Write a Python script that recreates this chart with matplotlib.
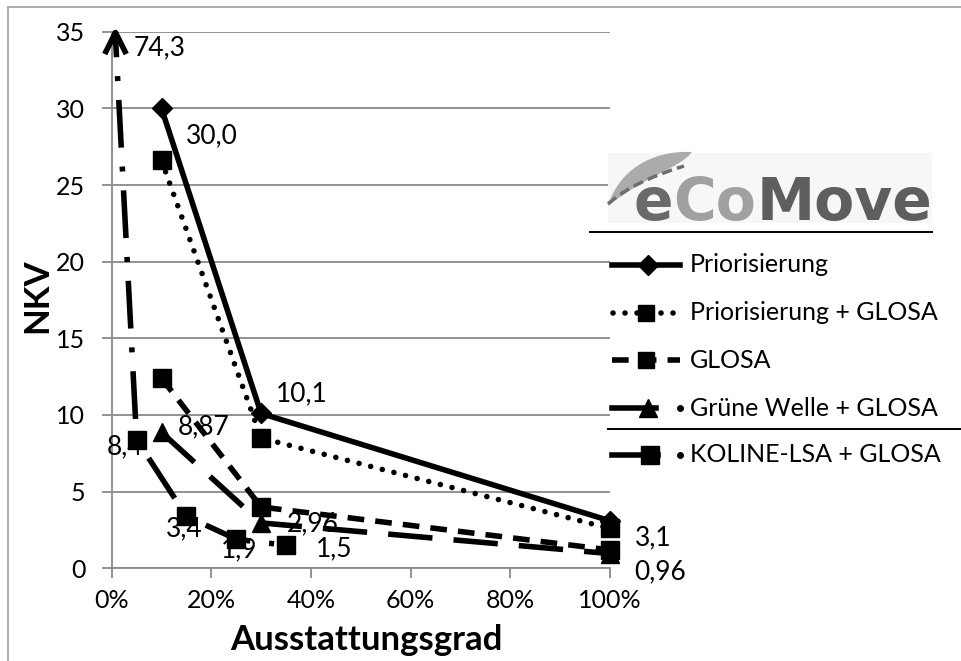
import numpy as np
import matplotlib
matplotlib.use("Agg")
import matplotlib.pyplot as plt
from matplotlib.path import Path
from matplotlib.patches import PathPatch, Rectangle
from matplotlib.markers import MarkerStyle
import matplotlib.ticker as mticker

# ---------------- data ----------------
x_tick_values = [0.0, 0.2, 0.4, 0.6, 0.8, 1.0]
y_tick_values = [0, 5, 10, 15, 20, 25, 30, 35]
x_label = "Ausstattungsgrad"
y_label = "NKV"

series_names = ["Priorisierung", "Priorisierung + GLOSA", "GLOSA",
                "Grüne Welle + GLOSA", "KOLINE-LSA + GLOSA"]

prior_x = [0.10, 0.30, 1.00]
prior_y = [30.0, 10.1, 3.1]
prior_glosa_x = [0.10, 0.30, 1.00]
prior_glosa_y = [26.6, 8.5, 2.6]
glosa_x = [0.10, 0.30, 1.00]
glosa_y = [12.4, 4.0, 1.2]
gruene_x = [0.10, 0.30, 1.00]
gruene_y = [8.87, 2.96, 0.96]
koline_x = [0.007, 0.05, 0.15, 0.25, 0.35]
koline_y = [74.3, 8.4, 3.4, 1.9, 1.5]

Y_MAX = 35

# ---------------- styles ----------------
W, H, DPI = 962, 661, 100
LW = 4.0
GRID = "#898989"
FONT = "Lato"
FS_TICK = 18
FS_LAB = 19
plt.rcParams["font.family"] = [FONT, "DejaVu Sans"]

dot_style = (0, (0.01, 2.15))
glosa_style = (0, (3.0, 2.0))
gruene_style = (0, (8.0, 3.8))
koline_style = (4.0, (8.6, 3.4, 0.9, 3.4))

# label offsets in pixels (dx right, dy down) and alignment
prior_label_off = [(24, 27, "left"), (15, -20, "left"), (25, 17, "left")]
gruene_label_off = [(16, -5, "left"), (26, 1, "left"), (25, 18, "left")]
koline_label_off = [(18, 16, "left"), (-12, 7, "center"), (-2, 13, "center"),
                    (3, 11, "center"), (30, 4, "left")]


def fx(px):
    return px / W


def fy(py):
    return 1 - py / H


def de(v, d):
    return f"{v:.{d}f}".replace(".", ",")


fig = plt.figure(figsize=(W / DPI, H / DPI), dpi=DPI, facecolor="white")

X0, X1, YT, YB = 111.7, 609.7, 31.7, 568.3
ax = fig.add_axes([fx(X0), fy(YB), fx(X1) - fx(X0), fy(YT) - fy(YB)])
ax.patch.set_visible(False)
ax.set_xlim(0, 1)
ax.set_ylim(0, Y_MAX)
ax.set_xticks(x_tick_values)
ax.xaxis.set_major_formatter(mticker.PercentFormatter(1.0, decimals=0))
ax.set_yticks(y_tick_values)
ax.yaxis.grid(True, color=GRID, lw=1.3)
ax.set_axisbelow(True)
for s in ["top", "right"]:
    ax.spines[s].set_visible(False)
for s in ["left", "bottom"]:
    ax.spines[s].set_color(GRID)
    ax.spines[s].set_linewidth(1.3)
ax.tick_params(axis="both", direction="out", length=7, width=1.3, color=GRID,
               labelsize=FS_TICK, labelcolor="black")
ax.tick_params(axis="y", pad=12)
ax.tick_params(axis="x", pad=8)

common = dict(color="black", lw=LW, clip_on=False, mfc="black", mec="black")
ax.plot(prior_x, prior_y, ls="-", marker="D", ms=10, zorder=3, **common)
ax.plot(prior_glosa_x, prior_glosa_y, ls=dot_style, dash_capstyle="round",
        marker="s", ms=13, zorder=4, **common)
ax.plot(glosa_x, glosa_y, ls=glosa_style, marker="s", ms=13, zorder=5, **common)
ax.plot(gruene_x, gruene_y, ls=gruene_style, marker="^", ms=13, zorder=6, **common)

k_plot_y = [min(v, Y_MAX) for v in koline_y]
k_normal = [i for i, v in enumerate(koline_y) if v <= Y_MAX]
k_clipped = [i for i, v in enumerate(koline_y) if v > Y_MAX]
ax.plot(koline_x, k_plot_y, ls=koline_style, marker="s", ms=13,
        markevery=k_normal, zorder=7, **common)
chev = Path([(-1, -2), (0, 0), (1, -2)], [Path.MOVETO, Path.LINETO, Path.LINETO])
ax.plot([koline_x[i] for i in k_clipped], [k_plot_y[i] for i in k_clipped],
        ls="none", marker=MarkerStyle(chev, fillstyle="none"), ms=31,
        mew=LW, mec="black", clip_on=False, zorder=8)


def add_labels(xs, ys, vals, dec, offs):
    for x, y, v, (dx, dy, ha) in zip(xs, ys, vals, offs):
        ax.annotate(de(v, dec), xy=(x, y), xytext=(dx * 0.72, -dy * 0.72),
                    textcoords="offset points", ha=ha, va="center",
                    fontsize=FS_LAB, annotation_clip=False, zorder=10)


add_labels(prior_x, prior_y, prior_y, 1, prior_label_off)
add_labels(gruene_x, gruene_y, gruene_y, 2, gruene_label_off)
add_labels(koline_x, k_plot_y, koline_y, 1, koline_label_off)

fig.text(fx(366), fy(640), x_label, fontsize=25, fontweight="bold",
         ha="center", va="center")
fig.text(fx(37), fy(296), y_label, fontsize=25, fontweight="bold",
         ha="center", va="center", rotation=90)

# ---------------- overlay: legend, logo, frame ----------------
ov = fig.add_axes([0, 0, 1, 1])
ov.set_xlim(0, W)
ov.set_ylim(H, 0)
ov.axis("off")
ov.patch.set_visible(False)

# frame of the chart area
ov.plot([8, 8], [H, 7], color="#a0a0a0", lw=1.2)
ov.plot([8, W], [7, 7], color="#a0a0a0", lw=1.2)

# separators
ov.plot([590, 932], [231.7, 231.7], color="black", lw=1.4)
ov.plot([608, W], [429, 429], color="black", lw=1.4)

# legend
leg_y = [265, 313, 360, 408, 455]
lk = dict(color="black", lw=LW, mfc="black", mec="black")
ov.plot([612, 680], [leg_y[0]] * 2, ls="-", **lk)
ov.plot([648], [leg_y[0]], marker="D", ms=10, **lk)
ov.plot([613, 680], [leg_y[1]] * 2, ls=dot_style, dash_capstyle="round", **lk)
ov.plot([646], [leg_y[1]], marker="s", ms=12, **lk)
ov.plot([612, 680], [leg_y[2]] * 2, ls=glosa_style, **lk)
ov.plot([646], [leg_y[2]], marker="s", ms=12, **lk)
ov.plot([612, 656], [leg_y[3]] * 2, ls="-", **lk)
ov.plot([648], [leg_y[3]], marker="^", ms=13, **lk)
ov.plot([680], [leg_y[3]], marker="o", ms=4, **lk)
ov.plot([612, 658], [leg_y[4]] * 2, ls="-", **lk)
ov.plot([650], [leg_y[4]], marker="s", ms=13, **lk)
ov.plot([680], [leg_y[4]], marker="o", ms=4, **lk)
for yy, name in zip(leg_y, series_names):
    ov.text(690, yy, name, fontsize=18, ha="left", va="center")

# logo
ov.add_patch(Rectangle((608, 153), 324, 70, facecolor="#f7f7f7", edgecolor="none"))
leaf = Path([(608, 206), (618, 172), (650, 150), (692, 152),
             (680, 168), (645, 176), (608, 206), (608, 206)],
            [Path.MOVETO, Path.CURVE4, Path.CURVE4, Path.CURVE4,
             Path.CURVE4, Path.CURVE4, Path.CURVE4, Path.CLOSEPOLY])
ov.add_patch(PathPatch(leaf, facecolor="#ababab", edgecolor="none"))
road = Path([(608, 204), (632, 182), (684, 166)], [Path.MOVETO, Path.CURVE3, Path.CURVE3])
ov.add_patch(PathPatch(road, facecolor="none", edgecolor="#6e6e6e", lw=2.5,
                       ls=(0, (3, 1.5))))

parts = [("e", "#6a6a6a"), ("Co", "#a0a0a0"), ("Move", "#5e5e5e")]
fig.canvas.draw()
xpos = 634
for txt, col in parts:
    t = ov.text(xpos, 220, txt, fontsize=42, fontweight="bold", color=col,
                family="DejaVu Sans", ha="left", va="baseline")
    fig.canvas.draw()
    xpos += t.get_window_extent().width

fig.savefig("out.png", dpi=DPI, facecolor="white")
